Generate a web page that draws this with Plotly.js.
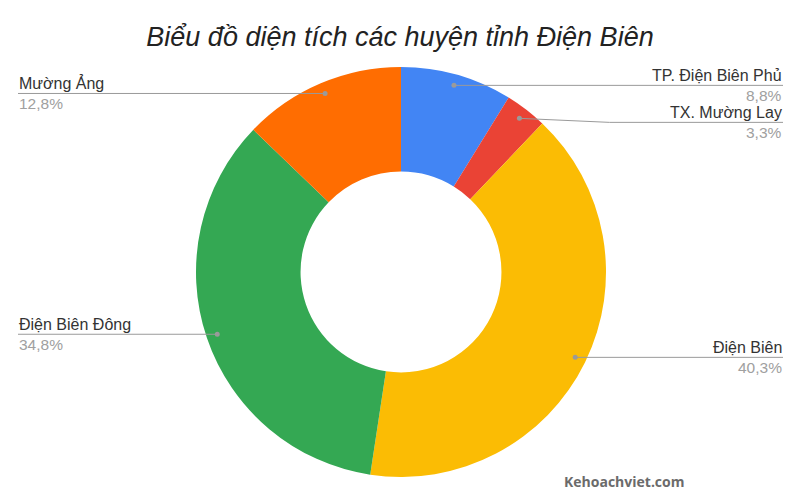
<!DOCTYPE html>
<html>
<head>
<meta charset="utf-8">
<script src="https://cdn.plot.ly/plotly-3.0.1.min.js"></script>
<style>html,body{margin:0;padding:0;background:#fff;}#chart{width:800px;height:500px;}</style>
</head>
<body>
<div id="chart"></div>
<script>
const categories = ["TP. Điện Biên Phủ", "TX. Mường Lay", "Điện Biên", "Điện Biên Đông", "Mường Ảng"];
const values = [8.8, 3.3, 40.3, 34.8, 12.8];
const pctLabels = ["8,8%", "3,3%", "40,3%", "34,8%", "12,8%"];
const colors = ["#4285F4", "#EA4335", "#FBBC04", "#34A853", "#FF6D01"];

const W = 800, H = 500;
const cx = 401, cy = 272, R = 205;
const dotR = R - 11;
const leftEdge = 18, rightEdge = 783;
const px = x => x / W;
const py = y => 1 - y / H;

const total = values.reduce((a, b) => a + b, 0);
let cum = 0;
const items = values.map((v, i) => {
  const mid = (cum + v / 2) / total * 2 * Math.PI;
  cum += v;
  const dx = cx + dotR * Math.sin(mid);
  const dy = cy - dotR * Math.cos(mid);
  return {i, dx, dy, side: Math.sin(mid) >= 0 ? 'right' : 'left', ly: dy};
});
// simple collision avoidance per side
['right', 'left'].forEach(side => {
  const s = items.filter(it => it.side === side).sort((a, b) => a.dy - b.dy);
  for (let k = 1; k < s.length; k++) {
    if (s[k].ly - s[k - 1].ly < 37) s[k].ly = s[k - 1].ly + 37;
  }
});

const shapes = [], annotations = [];
items.forEach(it => {
  const edge = it.side === 'right' ? rightEdge : leftEdge;
  const knee = it.side === 'right' ? it.dx + 90 : it.dx - 90;
  let path;
  if (Math.abs(it.ly - it.dy) < 0.5) {
    path = `M ${px(it.dx)} ${py(it.dy)} L ${px(edge)} ${py(it.ly)}`;
  } else {
    path = `M ${px(it.dx)} ${py(it.dy)} L ${px(knee)} ${py(it.ly)} L ${px(edge)} ${py(it.ly)}`;
  }
  shapes.push({type: 'path', xref: 'paper', yref: 'paper', path: path, line: {color: '#9a9a9a', width: 1}});
  shapes.push({type: 'circle', xref: 'paper', yref: 'paper',
    x0: px(it.dx - 2.5), x1: px(it.dx + 2.5), y0: py(it.dy + 2.5), y1: py(it.dy - 2.5),
    fillcolor: '#9a9a9a', line: {width: 0}});
  const anchor = it.side === 'right' ? 'right' : 'left';
  annotations.push({xref: 'paper', yref: 'paper', x: px(edge), y: py(it.ly),
    xanchor: anchor, yanchor: 'bottom', showarrow: false, text: categories[it.i],
    font: {family: 'Liberation Sans, Arial, sans-serif', size: 16, color: '#333333'}, borderpad: 0});
  annotations.push({xref: 'paper', yref: 'paper', x: px(edge), y: py(it.ly + 1),
    xanchor: anchor, yanchor: 'top', showarrow: false, text: pctLabels[it.i],
    font: {family: 'Liberation Sans, Arial, sans-serif', size: 15.5, color: '#a0a0a0'}, borderpad: 0});
});

annotations.push({xref: 'paper', yref: 'paper', x: px(562), y: py(481), xanchor: 'left', yanchor: 'middle',
  showarrow: false, text: '<b>Kehoachviet.com</b>',
  font: {family: 'Open Sans, sans-serif', size: 14, color: '#6b6b6b'}});

const trace = {
  type: 'pie',
  labels: categories,
  values: values,
  marker: {colors: colors, line: {width: 0}},
  hole: 0.49,
  sort: false,
  direction: 'clockwise',
  rotation: 0,
  textinfo: 'none',
  hoverinfo: 'label+percent',
  domain: {x: [px(cx - R), px(cx + R)], y: [py(cy + R), py(cy - R)]}
};

const layout = {
  width: W, height: H,
  margin: {l: 0, r: 0, t: 0, b: 0},
  showlegend: false,
  paper_bgcolor: '#ffffff',
  title: {text: '<i>Biểu đồ diện tích các huyện tỉnh Điện Biên</i>', x: 0.5, xanchor: 'center',
    y: 1 - 37 / H, yanchor: 'middle',
    font: {family: 'Liberation Sans, Arial, sans-serif', size: 27, color: '#222222'}},
  shapes: shapes,
  annotations: annotations
};

Plotly.newPlot('chart', [trace], layout, {displayModeBar: false});
</script>
</body>
</html>
